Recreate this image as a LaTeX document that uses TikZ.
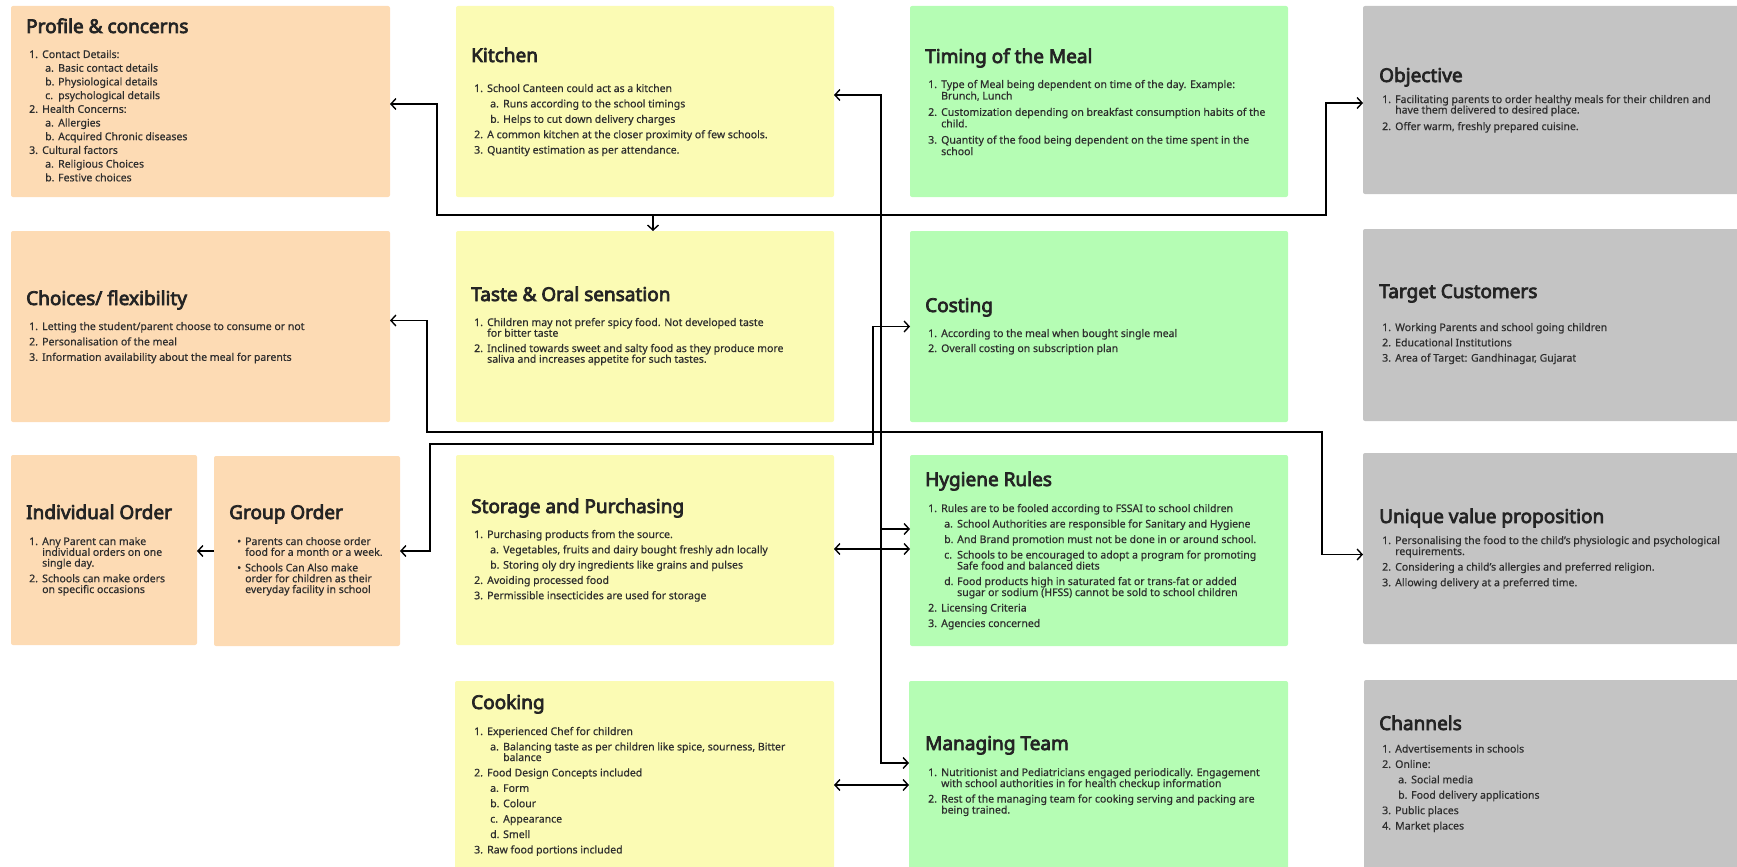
\documentclass[tikz,border=0pt]{standalone}
\usepackage{fontspec}
\setmainfont{Noto Sans}[FakeBold=0.5]
\newfontfamily\ttlfont{Noto Sans}[FakeBold=3.8]
\usetikzlibrary{arrows.meta}
\definecolor{cOr}{HTML}{FDDBB4}
\definecolor{cYe}{HTML}{FBFBB4}
\definecolor{cGr}{HTML}{B5FDB4}
\definecolor{cGy}{HTML}{C4C4C4}
\definecolor{cTi}{HTML}{242424}
\definecolor{cTx}{HTML}{2E2E2E}
\newcommand\nl{\hfil\break}
\newcommand\LI[2]{\par\hangindent=13pt\hangafter=1\noindent\makebox[13pt][l]{#1}#2}
\newcommand\LII[2]{\par\hangindent=29pt\hangafter=1\noindent\hspace*{16pt}\makebox[13pt][l]{#1}#2}
\newcommand\LB[1]{\par\hangindent=8pt\hangafter=1\noindent\makebox[8pt][l]{\textbullet}#1}
\newcommand\bodytxt[3]{\vtop{\hsize=450pt\fontsize{10.5pt}{#1pt}\selectfont\baselineskip=#1pt\parskip=#2pt\parindent=0pt\rightskip=0pt plus 1fil #3}}
\tikzset{
  card/.style={rectangle, anchor=north west, inner sep=0pt, outer sep=0pt, rounded corners=2pt, draw=none},
  ttl/.style={anchor=base west, inner sep=0pt, text=cTi, font=\ttlfont\fontsize{19pt}{22pt}\selectfont},
  bdy/.style={anchor=base west, inner sep=0pt, text=cTx},
  conn/.style={line width=1.4pt, draw=black},
  tip/.tip={Straight Barb[length=5pt,width=11pt,line width=1.4pt]}
}
\begin{document}
\begin{tikzpicture}[x=1pt,y=-1pt]
\useasboundingbox (0,0) rectangle (1737,867);
\clip (0,0) rectangle (1737,867);
% ---------- cards ----------
\node[card, fill=cOr, minimum width=379, minimum height=191] (profile) at (11,6) {};
\node[card, fill=cOr, minimum width=379, minimum height=191] (choices) at (11,231) {};
\node[card, fill=cOr, minimum width=186, minimum height=190] (individual) at (11,455) {};
\node[card, fill=cOr, minimum width=186, minimum height=190] (group) at (214,456) {};
\node[card, fill=cYe, minimum width=378, minimum height=191] (kitchen) at (456,6) {};
\node[card, fill=cYe, minimum width=378, minimum height=191] (taste) at (456,231) {};
\node[card, fill=cYe, minimum width=378, minimum height=190] (storage) at (456,455) {};
\node[card, fill=cYe, minimum width=379, minimum height=200] (cooking) at (455,681) {};
\node[card, fill=cGr, minimum width=378, minimum height=191] (timing) at (910,6) {};
\node[card, fill=cGr, minimum width=378, minimum height=191] (costing) at (910,231) {};
\node[card, fill=cGr, minimum width=378, minimum height=191] (hygiene) at (910,455) {};
\node[card, fill=cGr, minimum width=379, minimum height=200] (managing) at (909,681) {};
\node[card, fill=cGy, minimum width=384, minimum height=188] (objective) at (1363,6) {};
\node[card, fill=cGy, minimum width=384, minimum height=192] (target) at (1363,229) {};
\node[card, fill=cGy, minimum width=384, minimum height=191] (uvp) at (1363,453) {};
\node[card, fill=cGy, minimum width=384, minimum height=200] (channels) at (1364,680) {};
% ---------- titles ----------
\node[ttl] (profileH) at (26,33) {Profile \& concerns};
\node[ttl] (choicesH) at (26,305) {Choices/ flexibility};
\node[ttl] (individualH) at (26,519) {Individual Order};
\node[ttl] (groupH) at (229,519) {Group Order};
\node[ttl] (kitchenH) at (471,62) {Kitchen};
\node[ttl] (tasteH) at (471,301) {Taste \& Oral sensation};
\node[ttl] (storageH) at (471,513) {Storage and Purchasing};
\node[ttl] (cookingH) at (471,709) {Cooking};
\node[ttl] (timingH) at (925,63) {Timing of the Meal};
\node[ttl] (costingH) at (925,312) {Costing};
\node[ttl] (hygieneH) at (925,486) {Hygiene Rules};
\node[ttl] (managingH) at (925,750) {Managing Team};
\node[ttl] (objectiveH) at (1379,82) {Objective};
\node[ttl] (targetH) at (1379,298) {Target Customers};
\node[ttl] (uvpH) at (1379,523) {Unique value proposition};
\node[ttl] (channelsH) at (1379,730) {Channels};
% ---------- bodies ----------
\node[bdy] (profileB) at (29,58) {\bodytxt{11}{2.7}{%
\LI{1.}{Contact Details:}
\LII{a.}{Basic contact details}
\LII{b.}{Physiological details}
\LII{c.}{psychological details}
\LI{2.}{Health Concerns:}
\LII{a.}{Allergies}
\LII{b.}{Acquired Chronic diseases}
\LI{3.}{Cultural factors}
\LII{a.}{Religious Choices}
\LII{b.}{Festive choices}}};
\node[bdy] (choicesB) at (29,330) {\bodytxt{11}{4.4}{%
\LI{1.}{Letting the student/parent choose to consume or not}
\LI{2.}{Personalisation of the meal}
\LI{3.}{Information availability about the meal for parents}}};
\node[bdy] (individualB) at (29,545) {\bodytxt{10.8}{4.8}{%
\LI{1.}{Any Parent can make\nl individual orders on one\nl single day.}
\LI{2.}{Schools can make orders\nl on specific occasions}}};
\node[bdy] (groupB) at (237,545) {\bodytxt{10.8}{4.8}{%
\LB{Parents can choose order\nl food for a month or a week.}
\LB{Schools Can Also make\nl order for children as their\nl everyday facility in school}}};
\node[bdy] (kitchenB) at (474,92) {\bodytxt{11}{4.4}{%
\LI{1.}{School Canteen could act as a kitchen}
\LII{a.}{Runs according to the school timings}
\LII{b.}{Helps to cut down delivery charges}
\LI{2.}{A common kitchen at the closer proximity of few schools.}
\LI{3.}{Quantity estimation as per attendance.}}};
\node[bdy] (tasteB) at (474,326) {\bodytxt{10.7}{4.6}{%
\LI{1.}{Children may not prefer spicy food. Not developed taste\nl for bitter taste}
\LI{2.}{Inclined towards sweet and salty food as they produce more\nl saliva and increases appetite for such tastes.}}};
\node[bdy] (storageB) at (474,538) {\bodytxt{11}{4.3}{%
\LI{1.}{Purchasing products from the source.}
\LII{a.}{Vegetables, fruits and dairy bought freshly adn locally}
\LII{b.}{Storing oly dry ingredients like grains and pulses}
\LI{2.}{Avoiding processed food}
\LI{3.}{Permissible insecticides are used for storage}}};
\node[bdy] (cookingB) at (474,735) {\bodytxt{10.6}{4.8}{%
\LI{1.}{Experienced Chef for children}
\LII{a.}{Balancing taste as per children like spice, sourness, Bitter\nl balance}
\LI{2.}{Food Design Concepts included}
\LII{a.}{Form}
\LII{b.}{Colour}
\LII{c.}{Appearance}
\LII{d.}{Smell}
\LI{3.}{Raw food portions included}}};
\node[bdy] (timingB) at (928,88) {\bodytxt{11.5}{4.8}{%
\LI{1.}{Type of Meal being dependent on time of the day. Example:\nl Brunch, Lunch}
\LI{2.}{Customization depending on breakfast consumption habits of the\nl child.}
\LI{3.}{Quantity of the food being dependent on the time spent in the\nl school}}};
\node[bdy] (costingB) at (928,337) {\bodytxt{11}{4.0}{%
\LI{1.}{According to the meal when bought single meal}
\LI{2.}{Overall costing on subscription plan}}};
\node[bdy] (hygieneB) at (928,512) {\bodytxt{11}{4.5}{%
\LI{1.}{Rules are to be fooled according to FSSAI to school children}
\LII{a.}{School Authorities are responsible for Sanitary and Hygiene}
\LII{b.}{And Brand promotion must not be done in or around school.}
\LII{c.}{Schools to be encouraged to adopt a program for promoting\nl Safe food and balanced diets}
\LII{d.}{Food products high in saturated fat or trans-fat or added\nl sugar or sodium (HFSS) cannot be sold to school children}
\LI{2.}{Licensing Criteria}
\LI{3.}{Agencies concerned}}};
\node[bdy] (managingB) at (928,776) {\bodytxt{11}{4.5}{%
\LI{1.}{Nutritionist and Pediatricians engaged periodically. Engagement\nl with school authorities in for health checkup information}
\LI{2.}{Rest of the managing team for cooking serving and packing are\nl being trained.}}};
\node[bdy] (objectiveB) at (1382,103) {\bodytxt{10.5}{5}{%
\LI{1.}{Facilitating parents to order healthy meals for their children and\nl have them delivered to desired place.}
\LI{2.}{Offer warm, freshly prepared cuisine.}}};
\node[bdy] (targetB) at (1382,331) {\bodytxt{11}{4.3}{%
\LI{1.}{Working Parents and school going children}
\LI{2.}{Educational Institutions}
\LI{3.}{Area of Target: Gandhinagar, Gujarat}}};
\node[bdy] (uvpB) at (1382,544) {\bodytxt{11}{4.6}{%
\LI{1.}{Personalising the food to the child's physiologic and psychological\nl requirements.}
\LI{2.}{Considering a child's allergies and preferred religion.}
\LI{3.}{Allowing delivery at a preferred time.}}};
\node[bdy] (channelsB) at (1382,752.5) {\bodytxt{11}{4.4}{%
\LI{1.}{Advertisements in schools}
\LI{2.}{Online:}
\LII{a.}{Social media}
\LII{b.}{Food delivery applications}
\LI{3.}{Public places}
\LI{4.}{Market places}}};
% ---------- connectors ----------
\coordinate (a1) at (437,215);
\coordinate (a2) at (1326,215);
\coordinate (a3) at (653,215);
\draw[conn, tip-tip] ([yshift=-2.5pt]profile.east) -| (a1) -- (a2) |- ([yshift=-3pt]objective.west);
\draw[conn, -tip] (a3) -- (a3 |- taste.north);
\coordinate (b1) at (881,95);
\coordinate (b2) at (881,763);
\coordinate (b3) at (881,529);
\draw[conn, tip-tip] (b1 -| kitchen.east) -- (b1) -- (b2) -- (b2 -| managing.west);
\draw[conn, -tip] (b3) -- (b3 -| hygiene.west);
\draw[conn, tip-tip] ([yshift=1pt]storage.east) -- ([yshift=1pt]storage.east -| hygiene.west);
\coordinate (d1) at (834,785);
\draw[conn, tip-tip] (d1 -| cooking.east) -- (d1 -| managing.west);
\coordinate (e1) at (873,444);
\coordinate (e2) at (430,444);
\draw[conn, tip-tip] (costing.west) -| (e1) -- (e2) |- (group.east);
\coordinate (f1) at (427,432);
\coordinate (f2) at (1322,432);
\draw[conn, tip-tip] ([yshift=6pt]choices.east) -| (f1) -- (f2) |- ([yshift=-6pt]uvp.west);
\draw[conn, -tip] (group.west) -- (group.west -| individual.east);
\end{tikzpicture}
\end{document}
